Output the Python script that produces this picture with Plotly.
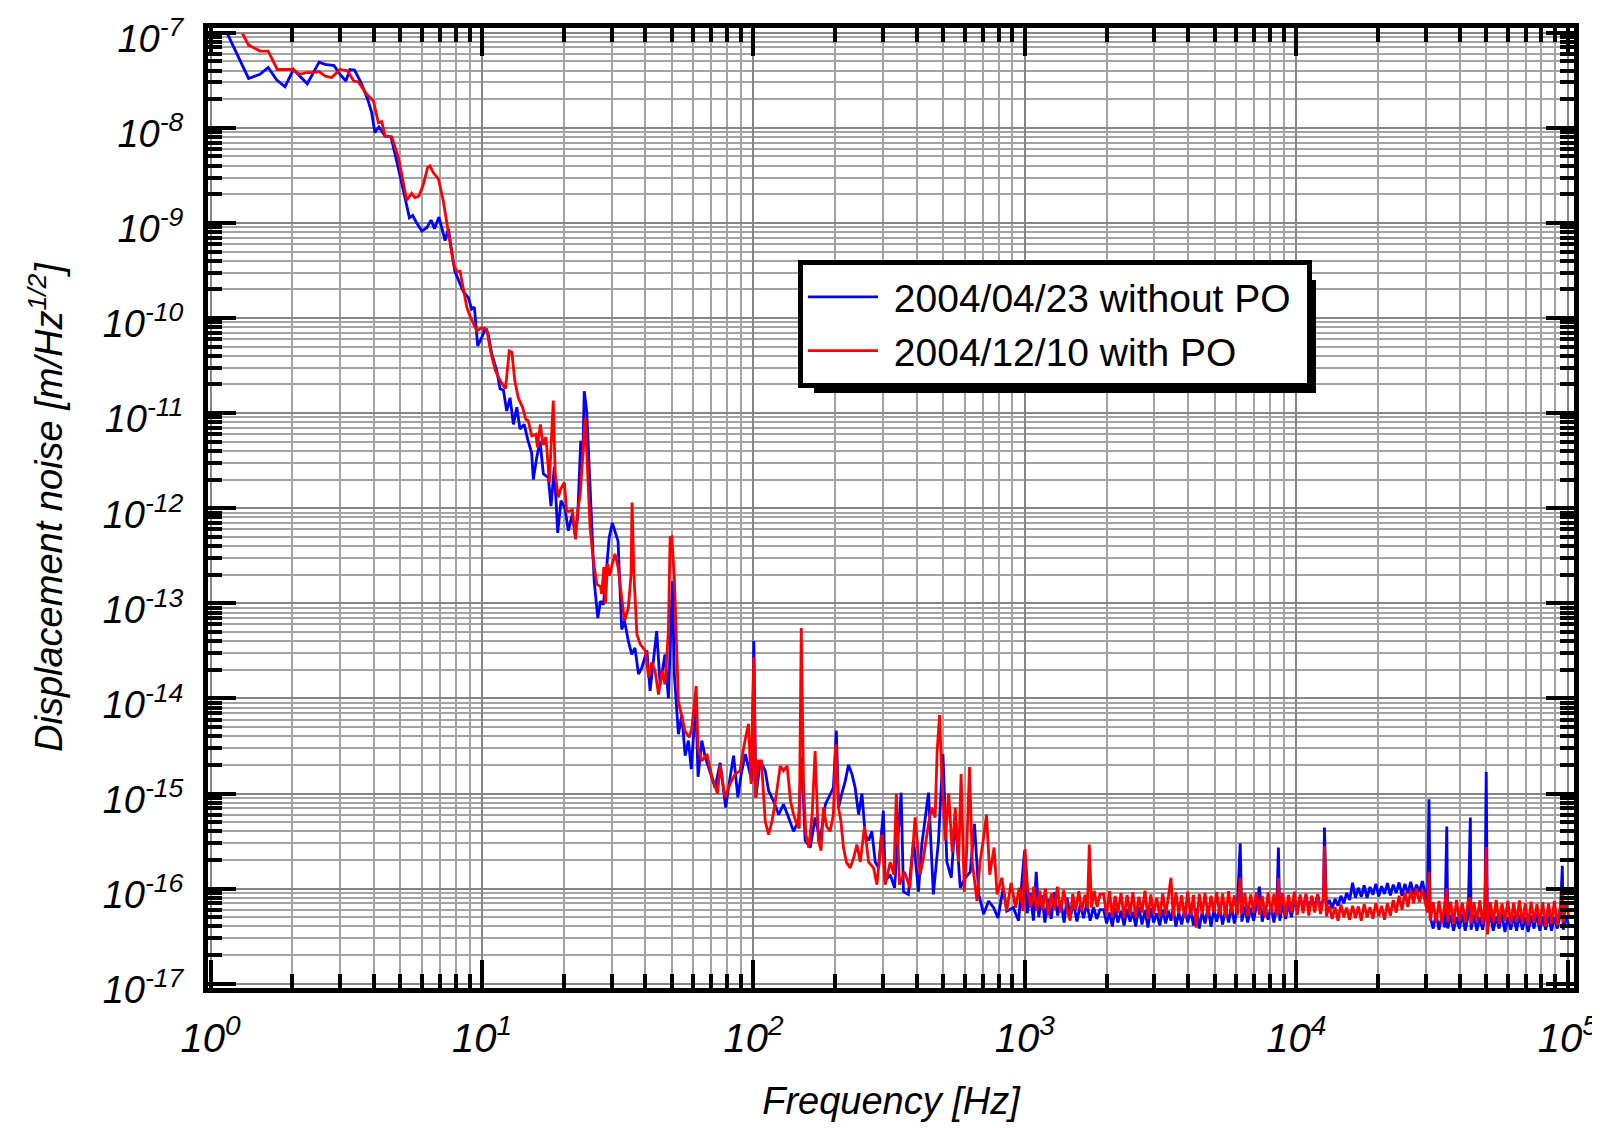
import plotly.graph_objects as go

# ---------------- data ----------------
series_names = ["2004/04/23 without PO", "2004/12/10 with PO"]

# 2004/04/23 without PO : 1 Hz .. ~1.9 kHz
blue_f = [1.15, 1.38, 1.52, 1.63, 1.75, 1.88, 2.02, 2.27, 2.51, 2.64, 2.85, 3.0, 3.15, 3.26, 3.39,
          3.6, 3.81, 3.92, 4.03, 4.17, 4.39, 4.62, 4.78, 4.99, 5.2, 5.4, 5.55, 5.74, 6.0, 6.26,
          6.49, 6.68, 6.94, 7.31, 7.52, 7.94, 8.53, 8.9, 9.16, 9.37, 9.64, 9.97, 10.26, 10.5,
          10.86, 11.33, 11.65, 11.99, 12.33, 12.68, 13.05, 13.43, 13.8, 14.3, 14.73, 15.24, 15.45,
          15.9, 16.36, 16.82, 17.55, 17.95, 18.46, 19.0, 19.54, 20.2, 20.8, 21.5, 22.0, 22.5, 23.1,
          23.5, 23.8, 24.3, 24.8, 25.3, 25.9, 26.7, 27.3, 28.0, 28.5, 29.4, 30.2, 30.9, 31.7, 32.7,
          33.5, 34.6, 35.6, 36.6, 37.7, 38.8, 40.5, 41.6, 44.0, 45.3, 47.2, 48.6, 50.3, 51.1, 52.9,
          54.5, 56.0, 57.6, 59.0, 61.3, 62.5, 64.5, 66.4, 68.3, 72.2, 75.4, 79, 82, 84.5, 87.6, 90.1,
          93.3, 95.9, 98.7, 100.3, 102, 106, 110.5, 113.7, 118.6, 123.8, 129, 134.7, 140.5, 146.6,
          150.7, 155, 162, 168.7, 176, 184, 191.7, 197, 202, 205.8, 211.6, 217.8, 224, 230.6, 237,
          244, 251, 258, 265.6, 273, 281, 289, 301, 305.6, 319, 331, 350, 357, 372, 389, 405.5, 417,
          441.5, 460, 480.5, 499, 516, 535.5, 554, 578, 603, 629, 652, 676, 705, 735, 767, 796, 832,
          857, 906, 948, 997, 1020, 1047, 1075, 1101, 1125, 1155, 1185, 1215, 1250, 1285, 1320,
          1355, 1395, 1430, 1470, 1510, 1555, 1600, 1645, 1690, 1740, 1790, 1840, 1890]
blue_a = [9.9e-8, 3.3e-8, 3.65e-8, 4.3e-8, 3.2e-8, 2.7e-8, 4.1e-8, 2.9e-8, 4.9e-8, 4.65e-8, 4.5e-8,
          3.65e-8, 3.1e-8, 4.1e-8, 4.05e-8, 2.9e-8, 1.9e-8, 1.45e-8, 8.9e-9, 1.02e-8, 8.2e-9, 8.0e-9,
          5.3e-9, 3.2e-9, 1.85e-9, 1.13e-9, 1.2e-9, 1.0e-9, 8.2e-10, 8.9e-10, 1.07e-9, 8.7e-10,
          1.15e-9, 6.5e-10, 8.6e-10, 3.1e-10, 1.9e-10, 1.64e-10, 1.24e-10, 1.3e-10, 5.1e-11, 6.2e-11,
          7.6e-11, 7.0e-11, 4.2e-11, 2.8e-11, 1.8e-11, 1.74e-11, 1.05e-11, 1.45e-11, 7.6e-12, 1.15e-11,
          6.8e-12, 7.6e-12, 5.3e-12, 3.8e-12, 2.0e-12, 3.4e-12, 5.1e-12, 2.3e-12, 2.1e-12, 1.05e-12,
          2.7e-12, 5.5e-13, 1.2e-12, 1.0e-12, 5.8e-13, 8.6e-13, 5.3e-13, 7.9e-13, 5.1e-12, 3.2e-12,
          1.7e-11, 1.05e-11, 2.4e-12, 7.9e-13, 1.7e-13, 7.0e-14, 1.05e-13, 9.7e-14, 1.7e-13, 4.9e-13,
          7.0e-13, 5.8e-13, 4.5e-13, 5.3e-14, 6.5e-14, 4.0e-14, 2.9e-14, 3.4e-14, 1.8e-14, 2.1e-14,
          3.2e-14, 1.2e-14, 5.1e-14, 1.4e-14, 2.9e-14, 1.0e-14, 1.7e-13, 1.8e-14, 4.2e-15,
          6.7e-15, 2.5e-15, 3.6e-15, 1.8e-15, 9.3e-15, 1.5e-15, 3.6e-15, 2.4e-15, 1.9e-15, 1.15e-15,
          2.1e-15, 7.1e-16, 1.47e-15, 2.5e-15, 9.1e-16, 1.6e-15, 2.6e-15, 1.9e-15, 1.35e-15, 4.0e-14,
          9.1e-16, 2.2e-15, 1.73e-15, 1.07e-15, 8.3e-16, 6.0e-16, 7.7e-16, 5.6e-16, 4.0e-16, 5.2e-16,
          2.4e-15, 3.2e-16, 2.7e-16, 5.6e-16, 3.2e-16, 7.7e-16, 1.0e-15, 1.15e-15, 4.6e-15, 7.1e-16,
          1.0e-15, 1.35e-15, 2.0e-15, 1.6e-15, 1.15e-15, 6.0e-16, 1.0e-15, 3.7e-16, 3.2e-16, 4.0e-16,
          1.9e-16, 1.65e-16, 6.6e-16, 1.2e-16, 1.4e-16, 1.02e-16, 1.02e-15, 9.3e-17, 8.7e-17, 3.2e-16,
          9.3e-17, 2.9e-16, 1.02e-15, 8.7e-17, 3.2e-16, 2.6e-15, 1.9e-16, 1.3e-16, 5.6e-16, 1.02e-16,
          1.3e-16, 1.5e-16, 4.8e-16, 8.7e-17, 5.4e-17, 7.4e-17, 6.3e-17, 4.9e-17, 1.02e-16, 5.8e-17,
          6.3e-17, 4.6e-17, 2.5e-16, 5.5e-17, 9.0e-17, 4.6e-17, 1.5e-16, 5.0e-17, 8.5e-17, 4.4e-17,
          7.8e-17, 4.8e-17, 9.2e-17, 5.2e-17, 7.5e-17, 4.4e-17, 8.0e-17, 5.0e-17, 7.2e-17, 4.5e-17,
          6.8e-17, 4.9e-17, 7.0e-17, 4.6e-17, 6.4e-17, 4.8e-17, 6.0e-17]

# 2004/12/10 with PO : 1.3 Hz .. ~1.9 kHz
red_f = [1.31, 1.38, 1.52, 1.63, 1.76, 1.99, 2.13, 2.26, 2.39, 2.51, 2.64, 2.79, 3.0, 3.19, 3.37,
         3.5, 3.76, 3.98, 4.15, 4.27, 4.39, 4.65, 4.92, 5.13, 5.28, 5.5, 5.66, 5.86, 6.08, 6.3, 6.43,
         6.61, 6.91, 7.2, 7.52, 7.85, 8.07, 8.3, 8.79, 9.03, 9.56, 9.97, 10.4, 10.8, 11.2, 11.65,
         12.2, 12.6, 12.88, 13.2, 13.6, 14.1, 14.5, 14.8, 15.25, 15.8, 16.0, 16.4, 16.8, 17.2, 17.7,
         18.3, 18.6, 19.1, 19.5, 20.1, 20.5, 21.0, 21.5, 22.1, 22.5, 23.0, 24.0, 24.3, 25.0, 25.7,
         26.5, 27.3, 27.6, 28.1, 28.5, 29.0, 29.5, 30.2, 30.9, 31.7, 32.7, 33.5, 34.6, 35.4, 35.7,
         36.3, 37.2, 38.3, 40.0, 41.1, 42.2, 43.4, 44.7, 46.0, 47.2, 48.6, 49.3, 50.0, 51.1, 52.9,
         56.0, 58.0, 59.3, 61.5, 62.5, 64.5, 67.4, 70.3, 73.7, 75.4, 78.5, 82, 85.5, 89.2, 92.5,
         95.9, 98, 100.3, 102, 104, 107, 110.5, 113.7, 117, 120, 125.5, 129, 133, 137, 140.5, 144.5,
         147.5, 150, 153, 156, 160, 164.5, 168.7, 173.5, 177.4, 181, 186, 191.7, 197, 201, 205.8,
         210, 214.6, 220, 227, 234, 240.5, 247.5, 256.5, 265.6, 277, 285, 297, 305.6, 319, 329, 336,
         345, 360, 377, 394, 411, 423, 441.5, 454, 467, 475, 485, 493, 509, 524, 540, 554, 570, 582,
         598, 610, 625, 640, 666, 683, 702, 722, 742, 770, 790, 822, 857, 889, 924, 953, 985, 1001,
         1023, 1050, 1078, 1105, 1133, 1160, 1190, 1220, 1252, 1285, 1318, 1352, 1390, 1428, 1468,
         1500, 1540, 1580, 1620, 1665, 1700, 1727, 1760, 1800, 1845, 1890]
red_a = [9.8e-8, 7.4e-8, 6.4e-8, 6.4e-8, 4.1e-8, 4.1e-8, 3.65e-8, 3.8e-8, 3.8e-8, 3.9e-8, 3.5e-8,
         3.37e-8, 4.1e-8, 3.97e-8, 3.1e-8, 3.03e-8, 2.25e-8, 1.91e-8, 1.13e-8, 1.16e-8, 8.2e-9,
         8.0e-9, 4.85e-9, 2.75e-9, 1.73e-9, 2.04e-9, 1.84e-9, 1.92e-9, 2.55e-9, 3.8e-9, 3.97e-9,
         3.38e-9, 2.88e-9, 1.7e-9, 7.6e-10, 3.67e-10, 3.07e-10, 3.1e-10, 1.29e-10, 1.05e-10, 7.3e-11,
         7.9e-11, 7.6e-11, 4.2e-11, 2.8e-11, 2.2e-11, 1.8e-11, 4.5e-11, 4.35e-11, 2.2e-11, 1.45e-11,
         1.15e-11, 8.6e-12, 8.3e-12, 5.75e-12, 6.0e-12, 4.35e-12, 7.6e-12, 4.6e-12, 5.6e-12, 1.86e-12,
         1.35e-11, 2.3e-12, 1.3e-12, 1.6e-12, 1.86e-12, 9.3e-13, 9.3e-13, 9.6e-13, 4.7e-13, 9.3e-13,
         1.4e-12, 8.9e-12, 4.0e-12, 6.3e-13, 2.8e-13, 1.58e-13, 1.5e-13, 1.25e-13, 2.4e-13, 1.0e-13,
         2.6e-13, 1.95e-13, 2.6e-13, 3.3e-13, 2.4e-13, 1.15e-13, 6.5e-14, 9.0e-14, 2.0e-13, 1.15e-12,
         1.95e-13, 4.7e-14, 3.7e-14, 3.15e-14, 1.66e-14, 2.4e-14, 1.95e-14, 1.1e-14, 1.95e-14, 1.4e-14,
         5.1e-14, 4.9e-13, 5.0e-13, 1.86e-13, 9.3e-15,
         4.5e-15, 3.9e-15, 4.9e-15, 1.35e-14, 3.0e-15, 2.2e-15, 2.6e-15, 1.5e-15, 1.0e-15, 2.0e-15,
         9.1e-16, 1.26e-15, 1.6e-15, 1.73e-15, 3.3e-15, 5.4e-15, 1.26e-15, 2.7e-14, 9.0e-16, 2.2e-15,
         2.2e-15, 5.1e-16, 3.7e-16, 5.1e-16, 7.7e-16, 1.95e-15, 1.73e-15, 1.95e-15, 8.3e-16, 6.0e-16,
         4.8e-16, 4.3e-16, 5.5e-14, 1.15e-15, 3.7e-16, 2.7e-16, 6.0e-16, 2.8e-15, 3.2e-16, 2.5e-16,
         7.1e-16, 4.5e-16, 4.0e-16, 6.0e-16, 3.3e-15, 7.1e-16, 5.1e-16, 2.7e-16, 1.9e-16, 1.65e-16,
         2.1e-16, 2.9e-16, 1.9e-16, 4.5e-16, 1.9e-16, 1.65e-16, 1.1e-16, 3.7e-16, 1.1e-16, 1.9e-16,
         1.4e-16, 1.0e-15, 1.1e-16, 1.5e-16, 1.02e-16, 5.6e-16, 1.4e-16, 2.1e-16, 4.8e-16, 7.1e-16,
         5.6e-16, 2.8e-15, 6.7e-15, 1.86e-15, 3.2e-16, 1.0e-15, 2.4e-16, 7.1e-16, 1.9e-16, 1.6e-15,
         9.3e-17, 2.4e-16, 1.9e-15, 1.9e-16, 7.4e-17, 1.9e-16, 3.2e-16, 6.0e-16, 1.4e-16, 2.7e-16,
         8.7e-17, 1.3e-16, 5.8e-17, 1.15e-16, 6.3e-17, 1.02e-16, 5.8e-17, 2.6e-16, 1.02e-16, 6.3e-17,
         1.05e-16, 5.8e-17, 9.5e-17, 6.0e-17, 1.0e-16, 5.2e-17, 9.0e-17, 6.0e-17, 1.05e-16, 5.6e-17,
         9.6e-17, 6.2e-17, 4.6e-17, 8.8e-17, 6.0e-17, 9.4e-17, 5.8e-17, 8.6e-17, 6.2e-17, 2.9e-16,
         6.3e-17, 9.5e-17, 6.4e-17, 8.7e-17]

# shared frequency grid for the flat high-frequency part (~2 kHz .. 100 kHz)
hf_f = [1950, 2000, 2050, 2100, 2150, 2200, 2260, 2320, 2380, 2440,
        2500, 2560, 2630, 2700, 2770, 2840, 2910, 2980, 3060, 3140,
        3220, 3300, 3380, 3452, 3520, 3600, 3690, 3780, 3880, 3980,
        4080, 4180, 4280, 4390, 4500, 4610, 4730, 4850, 4970, 5090,
        5220, 5350, 5490, 5630, 5770, 5910, 6060, 6213, 6300, 6460,
        6620, 6790, 6960, 7130, 7310, 7490, 7680, 7870, 8070, 8270,
        8480, 8590, 8690, 8910, 9130, 9360, 9590, 9830, 10080, 10330,
        10590, 10850, 11120, 11400, 11690, 11980, 12280, 12590, 12695, 12900,
        13220, 13550, 13890, 14240, 14600, 14960, 15330, 15720, 16110, 16510,
        16920, 17350, 17780, 18220, 18680, 19150, 19630, 20120, 20620, 21130,
        21660, 22200, 22760, 23330, 23910, 24510, 25120, 25750, 26390, 27050,
        27730, 28420, 29130, 29860, 30400, 30820, 31150, 31930, 32730, 33550,
        34390, 35250, 35830, 36130, 37030, 37960, 38910, 39880, 40880, 41900,
        42950, 43770, 44020, 45120, 46250, 47410, 48590, 49500, 50070, 50600,
        51860, 53160, 54490, 55850, 57250, 58680, 60150, 61650, 63190, 64770,
        66390, 68050, 69750, 71490, 73280, 75110, 76990, 78920, 80890, 82910,
        84980, 87110, 89290, 91520, 93810, 95500, 96160, 98560, 101000]
hf_blue = [6.0e-17, 4.3e-17, 5.6e-17, 4.0e-17, 6.3e-17, 4.4e-17, 5.8e-17, 4.1e-17, 6.1e-17, 4.5e-17,
           5.7e-17, 4.0e-17, 6.4e-17, 4.2e-17, 5.9e-17, 3.9e-17, 6.2e-17, 4.4e-17, 5.5e-17, 4.1e-17,
           6.0e-17, 4.3e-17, 5.8e-17, 4.6e-17, 6.3e-17, 4.0e-17, 5.6e-17, 4.2e-17, 6.1e-17, 4.4e-17,
           5.9e-17, 4.1e-17, 6.2e-17, 3.8e-17, 5.7e-17, 4.3e-17, 6.4e-17, 4.0e-17, 6.0e-17, 4.5e-17,
           6.3e-17, 4.2e-17, 6.1e-17, 4.4e-17, 6.6e-17, 4.3e-17, 6.2e-17, 3.0e-16, 4.5e-17, 6.5e-17,
           4.4e-17, 6.3e-17, 4.6e-17, 6.7e-17, 1.05e-16, 4.5e-17, 6.4e-17, 4.7e-17, 6.6e-17, 4.4e-17,
           6.8e-17, 2.7e-16, 4.6e-17, 6.9e-17, 4.8e-17, 7.0e-17, 5.0e-17, 7.4e-17, 6.0e-17, 8.2e-17,
           6.2e-17, 8.5e-17, 6.0e-17, 8.0e-17, 6.4e-17, 8.6e-17, 6.3e-17, 7.9e-17, 4.4e-16, 6.5e-17,
           7.6e-17, 6.2e-17, 7.8e-17, 6.6e-17, 8.4e-17, 7.0e-17, 9.0e-17, 7.6e-17, 1.15e-16, 8.0e-17,
           1.02e-16, 8.2e-17, 1.08e-16, 8.0e-17, 1.04e-16, 8.6e-17, 1.12e-16, 8.3e-17, 1.06e-16, 8.8e-17,
           1.14e-16, 8.5e-17, 1.1e-16, 9.0e-17, 1.16e-16, 8.4e-17, 1.12e-16, 8.9e-17, 1.18e-16, 8.7e-17,
           1.1e-16, 9.2e-17, 1.2e-16, 8.8e-17, 7.0e-17, 8.7e-16, 5.0e-17, 3.8e-17, 5.4e-17, 3.7e-17,
           5.2e-17, 3.9e-17, 4.5e-16, 3.8e-17, 5.3e-17, 3.6e-17, 5.0e-17, 3.8e-17, 5.4e-17, 3.6e-17,
           5.1e-17, 5.6e-16, 3.7e-17, 5.3e-17, 3.6e-17, 5.0e-17, 3.7e-17, 5.2e-17, 1.68e-15, 3.9e-17,
           5.3e-17, 3.6e-17, 5.1e-17, 3.8e-17, 5.4e-17, 3.5e-17, 5.0e-17, 3.7e-17, 5.2e-17, 3.6e-17,
           5.3e-17, 3.7e-17, 5.0e-17, 3.5e-17, 5.2e-17, 3.8e-17, 5.4e-17, 3.6e-17, 5.1e-17, 3.7e-17,
           5.2e-17, 3.6e-17, 5.0e-17, 3.8e-17, 5.3e-17, 1.74e-16, 3.7e-17, 5.1e-17, 4.0e-17]
hf_red = [8.8e-17, 5.2e-17, 9.4e-17, 5.0e-17, 8.4e-17, 5.5e-17, 9.0e-17, 4.9e-17, 8.6e-17, 5.3e-17,
          9.2e-17, 5.0e-17, 8.2e-17, 5.6e-17, 9.5e-17, 4.8e-17, 8.7e-17, 5.4e-17, 8.0e-17, 5.1e-17,
          8.9e-17, 5.3e-17, 8.3e-17, 1.3e-16, 5.0e-17, 9.1e-17, 5.5e-17, 8.5e-17, 4.9e-17, 9.3e-17,
          5.2e-17, 8.6e-17, 3.9e-17, 8.8e-17, 5.4e-17, 9.0e-17, 5.1e-17, 8.4e-17, 5.6e-17, 9.2e-17,
          5.3e-17, 8.9e-17, 5.0e-17, 9.4e-17, 5.5e-17, 8.5e-17, 5.2e-17, 1.3e-16, 5.4e-17, 9.0e-17,
          5.1e-17, 8.7e-17, 5.6e-17, 9.2e-17, 5.3e-17, 8.4e-17, 5.0e-17, 9.1e-17, 5.5e-17, 8.8e-17,
          5.2e-17, 1.3e-16, 5.4e-17, 9.0e-17, 5.1e-17, 8.6e-17, 5.6e-17, 9.3e-17, 5.3e-17, 8.7e-17,
          5.5e-17, 8.9e-17, 5.2e-17, 8.4e-17, 5.6e-17, 8.8e-17, 5.4e-17, 8.0e-17, 2.8e-16, 5.1e-17,
          6.6e-17, 4.8e-17, 6.4e-17, 4.6e-17, 6.8e-17, 5.0e-17, 6.3e-17, 4.7e-17, 6.6e-17, 4.9e-17,
          6.5e-17, 4.6e-17, 6.9e-17, 5.0e-17, 6.4e-17, 4.8e-17, 7.0e-17, 5.1e-17, 6.6e-17, 4.7e-17,
          7.0e-17, 5.2e-17, 7.6e-17, 5.6e-17, 8.4e-17, 6.0e-17, 9.2e-17, 6.4e-17, 9.6e-17, 7.0e-17,
          1.0e-16, 7.2e-17, 9.8e-17, 6.8e-17, 5.6e-17, 1.5e-16, 4.6e-17, 7.2e-17, 4.4e-17, 7.4e-17,
          4.3e-17, 7.0e-17, 1.0e-16, 4.5e-17, 7.3e-17, 4.2e-17, 7.6e-17, 4.6e-17, 7.1e-17, 4.4e-17,
          7.4e-17, 8.0e-17, 4.3e-17, 7.2e-17, 4.5e-17, 7.5e-17, 4.2e-17, 7.0e-17, 2.74e-16, 3.3e-17,
          7.2e-17, 4.4e-17, 7.6e-17, 4.3e-17, 7.0e-17, 4.6e-17, 7.4e-17, 4.2e-17, 7.1e-17, 4.5e-17,
          7.5e-17, 4.3e-17, 7.0e-17, 4.1e-17, 7.3e-17, 4.4e-17, 6.9e-17, 4.2e-17, 7.2e-17, 4.0e-17,
          7.0e-17, 4.3e-17, 7.4e-17, 4.1e-17, 6.8e-17, 9.0e-17, 4.4e-17, 7.1e-17, 5.0e-17]

x_tick_vals = [1, 10, 100, 1000, 10000, 100000]
x_tick_text = ["10<sup>0</sup>", "10<sup>1</sup>", "10<sup>2</sup>", "10<sup>3</sup>",
               "10<sup>4</sup>", "10<sup>5</sup>"]
y_tick_vals = [1e-17, 1e-16, 1e-15, 1e-14, 1e-13, 1e-12, 1e-11, 1e-10, 1e-9, 1e-8, 1e-7]
y_tick_text = ["10<sup>-17</sup>", "10<sup>-16</sup>", "10<sup>-15</sup>", "10<sup>-14</sup>",
               "10<sup>-13</sup>", "10<sup>-12</sup>", "10<sup>-11</sup>", "10<sup>-10</sup>",
               "10<sup>-9</sup>", "10<sup>-8</sup>", "10<sup>-7</sup>"]

x_title = "Frequency [Hz]"
y_title = "Displacement noise [m/Hz<sup>1/2</sup>]"

# ---------------- figure ----------------
FONT = "Liberation Sans, Arial, sans-serif"
W, H = 1600, 1128
ML, MR, MT, MB = 200, 34, 20, 148
PW, PH = W - ML - MR, H - MT - MB

x_minor = [m * d for d in x_tick_vals[:-1] for m in range(2, 10)]
y_minor = [m * d for d in y_tick_vals[:-1] for m in range(2, 10)]

NB = "\u00a0"

fig = go.Figure()
fig.add_trace(go.Scatter(x=blue_f + hf_f, y=blue_a + hf_blue, mode="lines",
                         name=NB + series_names[0] + NB,
                         line=dict(color="#0000ff", width=2.8)))
fig.add_trace(go.Scatter(x=red_f + hf_f, y=red_a + hf_red, mode="lines",
                         name=NB + series_names[1],
                         line=dict(color="#ff0000", width=2.8)))


def axis_style(tickvals, ticktext, minorvals, rng, fsize, standoff, shift):
    return dict(
        type="log", range=rng, tickmode="array", tickvals=tickvals, ticktext=ticktext,
        showline=True, linewidth=5, linecolor="black", mirror="allticks",
        ticks="inside", ticklen=28, tickwidth=4, tickcolor="black",
        showgrid=True, gridcolor="#858585", gridwidth=2.2, zeroline=False,
        tickfont=dict(family=FONT, size=fsize, color="black", style="italic"),
        ticklabelstandoff=standoff, ticklabelshift=shift, ticklabeloverflow="allow",
        minor=dict(tickmode="array", tickvals=minorvals, ticks="inside", ticklen=14, tickwidth=4,
                   tickcolor="black", showgrid=True, gridcolor="#a3a3a3", gridwidth=1.6),
        automargin=False,
    )


xax = axis_style(x_tick_vals, x_tick_text, x_minor, [-0.0096, 5.023], 40, 11, 0)
xax["title"] = dict(text=x_title, standoff=30,
                    font=dict(family=FONT, size=38, color="black", style="italic"))
yax = axis_style(y_tick_vals, y_tick_text, y_minor, [-17.045, -6.951], 38, 12, 6)

# legend position (pixels) and its drop shadow
LEG_X, LEG_Y = 790, 252
SHADOW_L, SHADOW_T, SHADOW_R, SHADOW_B = 806, 272, 1308, 385

fig.update_layout(
    width=W, height=H,
    margin=dict(l=ML, r=MR, t=MT, b=MB),
    paper_bgcolor="white", plot_bgcolor="white",
    xaxis=xax, yaxis=yax,
    showlegend=True,
    legend=dict(x=(LEG_X - ML) / PW, y=1 - (LEG_Y - MT) / PH, xanchor="left", yanchor="top",
                bgcolor="white", bordercolor="black", borderwidth=5,
                font=dict(family=FONT, size=39, color="black"), itemwidth=70,
                tracegroupgap=0),
    shapes=[dict(type="rect", xref="paper", yref="paper", layer="above",
                 x0=(SHADOW_L - ML) / PW, x1=(SHADOW_R - ML) / PW,
                 y0=1 - (SHADOW_B - MT) / PH, y1=1 - (SHADOW_T - MT) / PH,
                 fillcolor="black", line=dict(width=0))],
    annotations=[dict(text=y_title, textangle=-90, xref="paper", yref="paper",
                      x=(38 - ML) / PW, y=1 - (499 - MT) / PH, xanchor="center", yanchor="middle",
                      showarrow=False,
                      font=dict(family=FONT, size=38, color="black", style="italic"))],
)

fig.write_html("out.html")
